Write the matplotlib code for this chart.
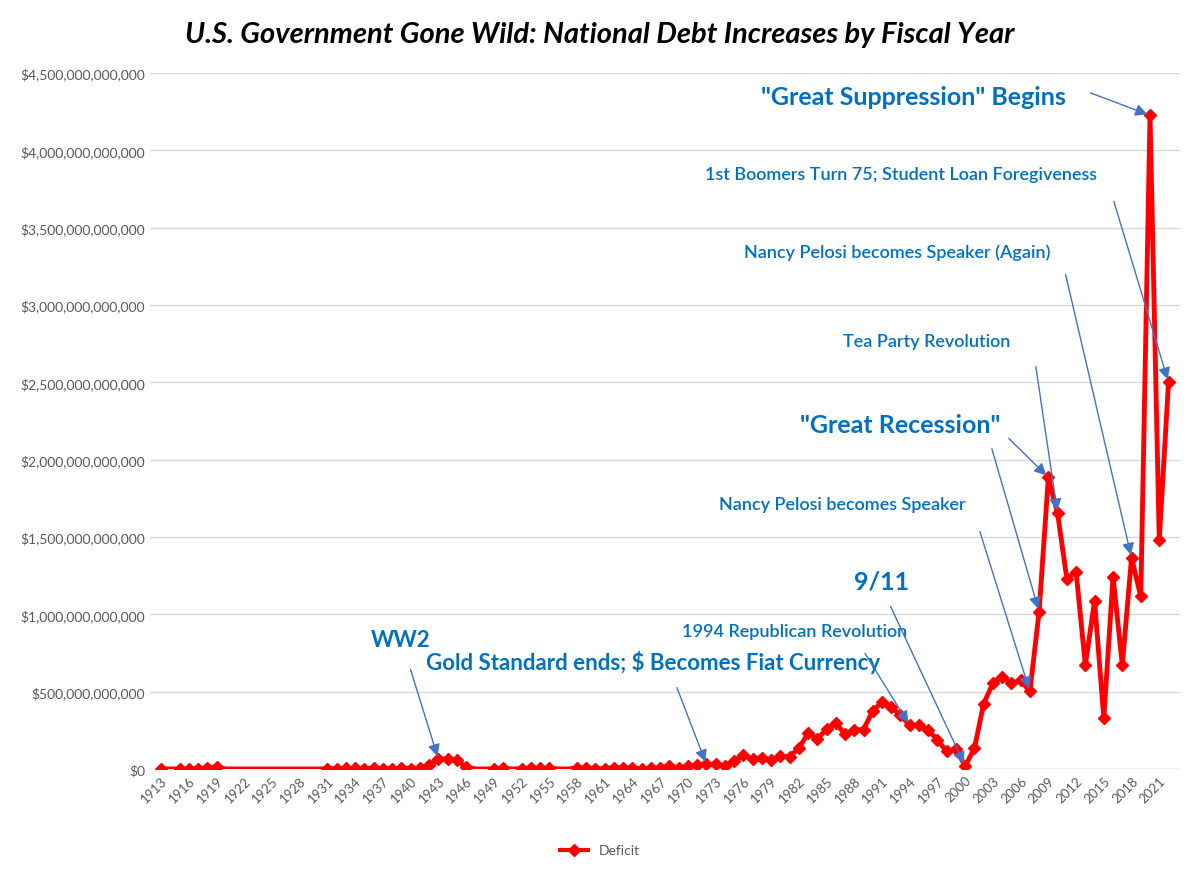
import matplotlib
matplotlib.use('Agg')
import matplotlib.pyplot as plt
from matplotlib.ticker import FuncFormatter
import numpy as np

plt.rcParams['font.family'] = ['Lato', 'DejaVu Sans']

years = list(range(1913, 2023))
missing = [1914] + list(range(1920, 1931)) + [1947, 1948, 1951, 1956, 1957]
# debt increase, billions of dollars
known = {
    1913: 0.5, 1915: 0.1, 1916: 0.5, 1917: 1, 1918: 9, 1919: 13,
    1931: 0.6, 1932: 2.7, 1933: 3, 1934: 4.5, 1935: 1.6, 1936: 5, 1937: 2.6,
    1938: 0.7, 1939: 3.3, 1940: 2.5, 1941: 6, 1942: 23, 1943: 64, 1944: 64,
    1945: 57, 1946: 11, 1949: 0.5, 1950: 4.5, 1952: 2, 1953: 6.9, 1954: 5.2,
    1955: 3.1, 1958: 5.8, 1959: 8.4, 1960: 1.6, 1961: 2.2, 1962: 9, 1963: 7.7,
    1964: 5.6, 1965: 1.6, 1966: 3.1, 1967: 6.2, 1968: 21, 1969: 6.1, 1970: 17,
    1971: 27, 1972: 29, 1973: 31, 1974: 16, 1975: 53, 1976: 87, 1977: 65,
    1978: 73, 1979: 55, 1980: 81, 1981: 79, 1982: 134, 1983: 231, 1984: 195,
    1985: 256, 1986: 296, 1987: 225, 1988: 252, 1989: 255, 1990: 376,
    1991: 432, 1992: 399, 1993: 347, 1994: 281, 1995: 281, 1996: 251,
    1997: 188, 1998: 113, 1999: 130, 2000: 18, 2001: 133, 2002: 421,
    2003: 555, 2004: 596, 2005: 554, 2006: 574, 2007: 501, 2008: 1017,
    2009: 1885, 2010: 1652, 2011: 1229, 2012: 1276, 2013: 672, 2014: 1086,
    2015: 327, 2016: 1243, 2017: 672, 2018: 1365, 2019: 1116, 2020: 4226,
    2021: 1480, 2022: 2500,
}
values = np.array([known.get(y, 0.0) for y in years]) * 1e9
has_marker = [y not in missing for y in years]

# (text, text x, text y [B], fontsize, [(arrow start x, start y, target year)])
notes = [
    ("WW2", 1938.9, 840, 16, [(1939.9, 660, 1943)]),
    ("Gold Standard ends; $ Becomes Fiat Currency", 1966.2, 692, 16, [(1968.7, 543, 1972)]),
    ("1994 Republican Revolution", 1981.6, 892, 13, [(1989.0, 763, 1994)]),
    ("9/11", 1991.0, 1215, 18, [(1991.8, 1067, 2000)]),
    ("Nancy Pelosi becomes Speaker", 1986.7, 1713, 13, [(2001.5, 1552, 2007)]),
    ('"Great Recession"', 1993.0, 2224, 18, [(2002.8, 2088, 2008), (2004.5, 2150, 2009)]),
    ("Tea Party Revolution", 1995.8, 2767, 13, [(2007.6, 2619, 2010)]),
    ("Nancy Pelosi becomes Speaker (Again)", 1992.7, 3343, 13, [(2010.8, 3214, 2018)]),
    ("1st Boomers Turn 75; Student Loan Foregiveness", 1993.1, 3847, 13, [(2016.0, 3686, 2022)]),
    ('"Great Suppression" Begins', 1994.4, 4345, 18, [(2013.3, 4377, 2020)]),
]

fig = plt.figure(figsize=(12, 8.7), dpi=100)
ax = fig.add_axes([0.125, 0.115, 0.858, 0.8])

ax.plot(years, values, color='red', lw=3.5, zorder=3)
ax.plot(np.array(years)[has_marker], values[has_marker], ls='none', marker='D',
        ms=6, color='red', zorder=4)
ax.plot([], [], color='red', lw=3, marker='D', ms=6, label='Deficit')

ax.set_ylim(0, 4.5e12)
ax.set_yticks(np.arange(0, 4.51e12, 0.5e12))
ax.yaxis.set_major_formatter(FuncFormatter(lambda v, p: f"${v:,.0f}"))
ax.set_xlim(1911.8, 2023.2)
ax.set_xticks(years[::3])
ax.tick_params(axis='x', rotation=45, labelsize=9.5, colors='#595959', length=0)
ax.tick_params(axis='y', labelsize=10, colors='#595959', length=0)
for lbl in ax.get_xticklabels():
    lbl.set_ha('right')
    lbl.set_rotation_mode('anchor')
ax.grid(axis='y', color='#d9d9d9', lw=1)
ax.set_axisbelow(True)
for s in ax.spines.values():
    s.set_visible(False)
ax.axhline(0, color='#d9d9d9', lw=1, zorder=1)

vals_by_year = dict(zip(years, values))
for text, tx, ty, fs, arrows in notes:
    ax.text(tx, ty * 1e9, text, ha='center', va='center', fontsize=fs,
            color='#0070c0', fontweight='bold' if fs >= 16 else 'semibold',
            bbox=dict(facecolor='white', edgecolor='none', pad=2), zorder=5)
    for sx, sy, yr in arrows:
        ax.annotate('', xy=(yr, vals_by_year[yr]), xytext=(sx, sy * 1e9),
                    arrowprops=dict(arrowstyle='-|>', color='#4472c4', lw=1,
                                    mutation_scale=18), zorder=6)

fig.suptitle("U.S. Government Gone Wild: National Debt Increases by Fiscal Year",
             x=0.5, y=0.975, fontsize=21, fontweight='bold', style='italic')
fig.legend(loc='lower center', bbox_to_anchor=(0.5, 0.0), frameon=False,
           fontsize=10, labelcolor='#595959')

fig.savefig('out.png', dpi=100)
